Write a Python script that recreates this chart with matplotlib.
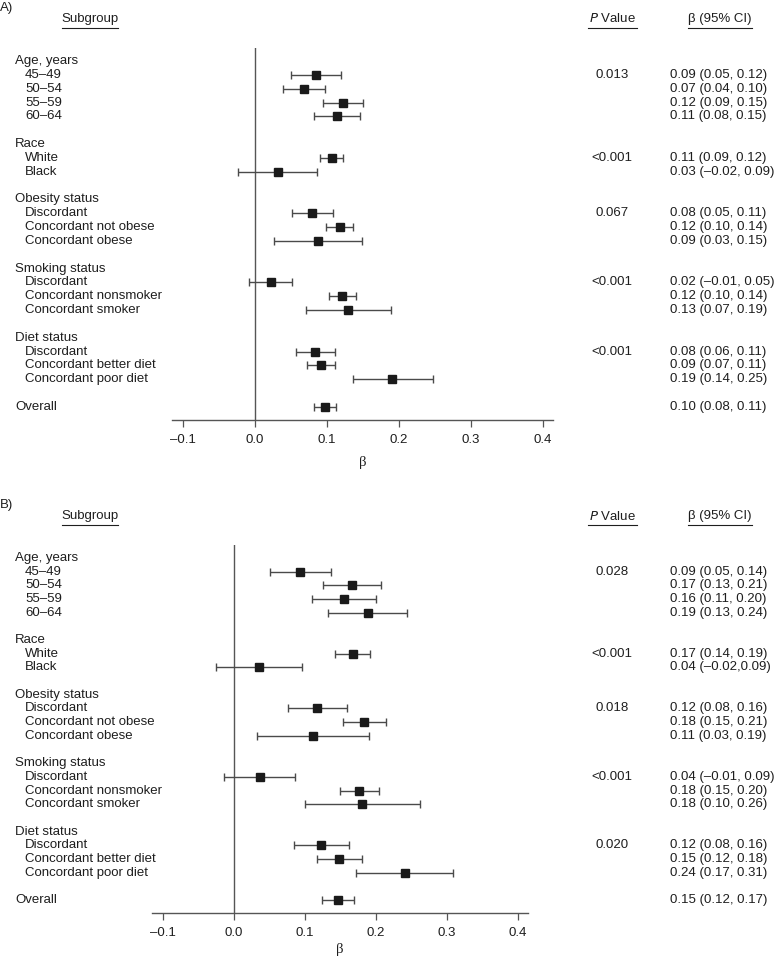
import matplotlib
matplotlib.use("Agg")
import matplotlib.pyplot as plt
import matplotlib.transforms as mtransforms
from matplotlib.lines import Line2D

plt.rcParams["font.family"] = ["Liberation Sans", "DejaVu Sans"]

W, H = 774, 959
TXT = "#1e1e1e"
BAR = "#4a4a4a"

# ---- data ----
groups = ["Age, years", "Race", "Obesity status", "Smoking status", "Diet status"]
items = [["45–49", "50–54", "55–59", "60–64"],
         ["White", "Black"],
         ["Discordant", "Concordant not obese", "Concordant obese"],
         ["Discordant", "Concordant nonsmoker", "Concordant smoker"],
         ["Discordant", "Concordant better diet", "Concordant poor diet"]]

# panel A (last value = Overall)
a_est = [0.085, 0.068, 0.122, 0.114, 0.107, 0.032, 0.080, 0.118, 0.088,
         0.022, 0.121, 0.130, 0.084, 0.092, 0.191, 0.098]
a_lo = [0.050, 0.039, 0.094, 0.082, 0.091, -0.023, 0.052, 0.099, 0.027,
        -0.008, 0.103, 0.071, 0.057, 0.073, 0.136, 0.082]
a_hi = [0.120, 0.098, 0.150, 0.146, 0.123, 0.087, 0.108, 0.137, 0.149,
        0.052, 0.140, 0.189, 0.111, 0.112, 0.247, 0.113]
a_p = ["0.013", "<0.001", "0.067", "<0.001", "<0.001"]
a_ci = ["0.09 (0.05, 0.12)", "0.07 (0.04, 0.10)", "0.12 (0.09, 0.15)", "0.11 (0.08, 0.15)",
        "0.11 (0.09, 0.12)", "0.03 (–0.02, 0.09)",
        "0.08 (0.05, 0.11)", "0.12 (0.10, 0.14)", "0.09 (0.03, 0.15)",
        "0.02 (–0.01, 0.05)", "0.12 (0.10, 0.14)", "0.13 (0.07, 0.19)",
        "0.08 (0.06, 0.11)", "0.09 (0.07, 0.11)", "0.19 (0.14, 0.25)",
        "0.10 (0.08, 0.11)"]

# panel B
b_est = [0.094, 0.167, 0.155, 0.189, 0.168, 0.035, 0.118, 0.184, 0.111,
         0.037, 0.177, 0.181, 0.123, 0.148, 0.241, 0.147]
b_lo = [0.051, 0.126, 0.110, 0.133, 0.143, -0.025, 0.076, 0.154, 0.033,
        -0.013, 0.150, 0.100, 0.085, 0.117, 0.172, 0.124]
b_hi = [0.137, 0.207, 0.200, 0.244, 0.192, 0.096, 0.160, 0.214, 0.190,
        0.087, 0.204, 0.263, 0.162, 0.180, 0.309, 0.170]
b_p = ["0.028", "<0.001", "0.018", "<0.001", "0.020"]
b_ci = ["0.09 (0.05, 0.14)", "0.17 (0.13, 0.21)", "0.16 (0.11, 0.20)", "0.19 (0.13, 0.24)",
        "0.17 (0.14, 0.19)", "0.04 (–0.02,0.09)",
        "0.12 (0.08, 0.16)", "0.18 (0.15, 0.21)", "0.11 (0.03, 0.19)",
        "0.04 (–0.01, 0.09)", "0.18 (0.15, 0.20)", "0.18 (0.10, 0.26)",
        "0.12 (0.08, 0.16)", "0.15 (0.12, 0.18)", "0.24 (0.17, 0.31)",
        "0.15 (0.12, 0.17)"]

xticks = [-0.1, 0.0, 0.1, 0.2, 0.3, 0.4]

fig = plt.figure(figsize=(W / 100, H / 100), dpi=100)


def fx(px):
    return px / W


def fy(py):
    return 1 - py / H


def panel(tag, top, left, right, axis_y, lab_off, est, lo, hi, pvals, cis):
    ax = fig.add_axes([fx(left), fy(axis_y), (right - left) / W, (axis_y - top) / H])
    ax.set_xlim(-0.115, 0.414)
    ax.set_ylim(25.94, -0.94)
    for s in ["top", "left", "right"]:
        ax.spines[s].set_visible(False)
    ax.spines["bottom"].set_color("#555555")
    ax.spines["bottom"].set_linewidth(1.0)
    ax.set_yticks([])
    ax.set_xticks(xticks)
    ax.set_xticklabels([f"{t:.1f}".replace("-", "–") for t in xticks], fontsize=9.5, color=TXT)
    ax.tick_params(axis="x", length=5, width=0.9, color="#555555", pad=5)
    ax.axvline(0, color="#555555", lw=1.0)

    tr = mtransforms.blended_transform_factory(fig.transFigure, ax.transData)
    pos = 0
    ys = []
    k = 0
    for g, its, p in zip(groups, items, pvals):
        ax.text(fx(15), pos, g, transform=tr, fontsize=9.5, color=TXT, va="center", ha="left")
        ax.text(fx(612), pos + 1, p, transform=tr, fontsize=9.5, color=TXT, va="center", ha="center")
        for j, it in enumerate(its):
            y = pos + 1 + j
            ax.text(fx(25), y, it, transform=tr, fontsize=9.5, color=TXT, va="center", ha="left")
            ax.text(fx(670), y, cis[k], transform=tr, fontsize=9.5, color=TXT, va="center", ha="left")
            ys.append(y)
            k += 1
        pos += len(its) + 2
    ax.text(fx(15), pos, "Overall", transform=tr, fontsize=9.5, color=TXT, va="center", ha="left")
    ax.text(fx(670), pos, cis[k], transform=tr, fontsize=9.5, color=TXT, va="center", ha="left")
    ys.append(pos)

    xerr = [[e - l for e, l in zip(est, lo)], [h - e for e, h in zip(est, hi)]]
    ax.errorbar(est, ys, xerr=xerr, fmt="s", ms=5.6, mfc="#1a1a1a", mec="#1a1a1a",
                ecolor=BAR, elinewidth=1.0, capsize=3, capthick=1.0, clip_on=False, zorder=3)

    # x label
    trx = mtransforms.blended_transform_factory(ax.transData, fig.transFigure)
    fig.text(0.15, fy(axis_y + lab_off), "β", transform=trx, fontsize=10.5, color=TXT,
             ha="center", va="center", family=["Liberation Serif", "DejaVu Serif"])

    # headers
    hy = top - 29
    fig.text(fx(0), fy(hy - 11), tag, fontsize=9.5, color=TXT, ha="left", va="center")
    fig.text(fx(90), fy(hy), "Subgroup", fontsize=9.5, color=TXT, ha="center", va="center")
    fig.text(fx(612), fy(hy), "$\\it{P}$ Value", fontsize=9.5, color=TXT, ha="center", va="center")
    fig.text(fx(720), fy(hy), "β (95% CI)", fontsize=9.5, color=TXT, ha="center", va="center")
    for x0, x1 in [(62, 118), (588, 637), (688, 752)]:
        fig.add_artist(Line2D([fx(x0), fx(x1)], [fy(hy + 8.5), fy(hy + 8.5)],
                              transform=fig.transFigure, color=TXT, lw=0.8))
    return ax


panel("A)", 48, 172, 553, 420, 42, a_est, a_lo, a_hi, a_p, a_ci)
panel("B)", 545, 152, 527.7, 913, 37, b_est, b_lo, b_hi, b_p, b_ci)

fig.savefig("out.png", dpi=100)
